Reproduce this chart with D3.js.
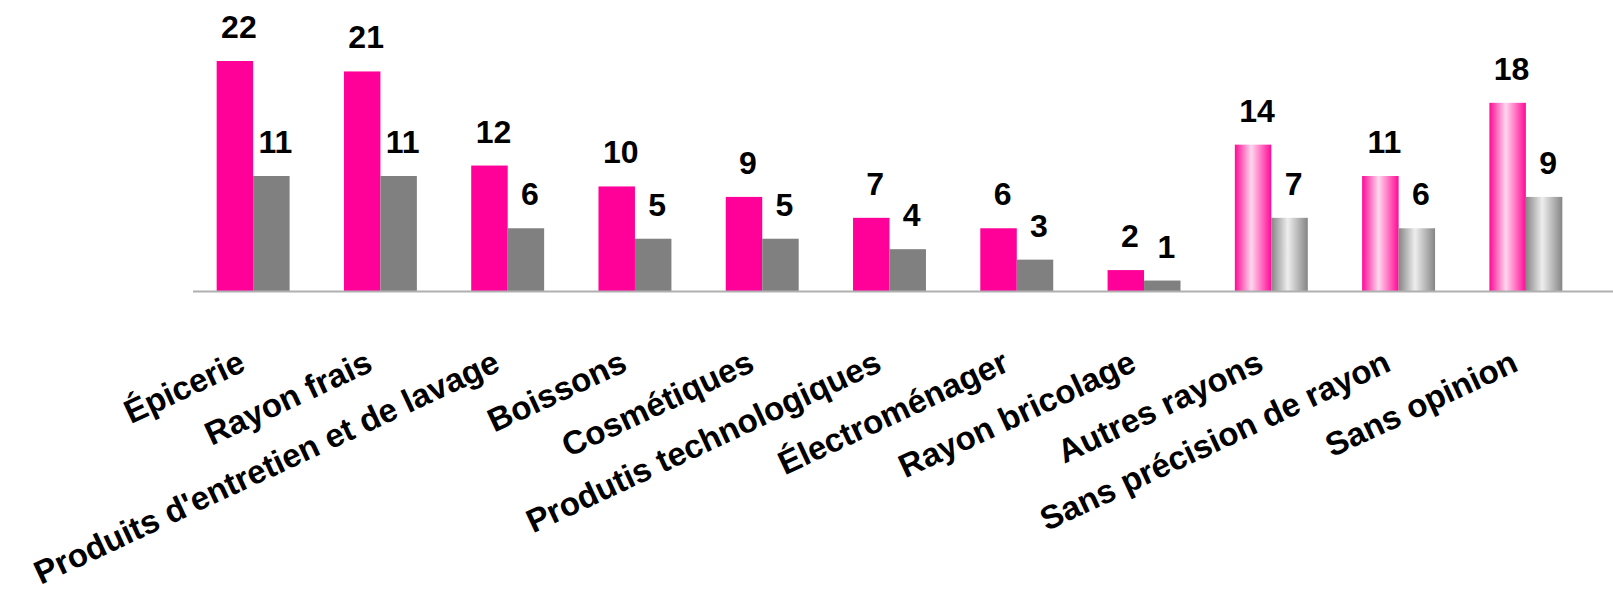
<!DOCTYPE html>
<html>
<head>
<meta charset="utf-8">
<script src="https://cdn.jsdelivr.net/npm/d3@7/dist/d3.min.js"></script>
<style>
	body { margin:0; background:#fff; }
	svg { display:block; font-family:"Liberation Sans", Arial, sans-serif; }
</style>
</head>
<body>
<div id="chart"></div>
<script>
var categories = ["Épicerie","Rayon frais","Produits d'entretien et de lavage","Boissons","Cosmétiques","Produtis technologiques","Électroménager","Rayon bricolage","Autres rayons","Sans précision de rayon","Sans opinion"];
var serieA = [22,21,12,10,9,7,6,2,14,11,18];
var serieB = [11,11,6,5,5,4,3,1,7,6,9];
// the last three groups are drawn with a shaded (gradient) fill
var shaded = ["Autres rayons","Sans précision de rayon","Sans opinion"];

var W = 1613, H = 595;
var svg = d3.select("#chart").append("svg").attr("width",W).attr("height",H);

var defs = svg.append("defs");
function grad(id, edge, mid){
	var g = defs.append("linearGradient").attr("id",id).attr("x1","0").attr("x2","1").attr("y1","0").attr("y2","0");
	g.append("stop").attr("offset","0%").attr("stop-color",edge);
	g.append("stop").attr("offset","45%").attr("stop-color",mid);
	g.append("stop").attr("offset","100%").attr("stop-color",edge);
}
grad("gPink","#FF0A96","#FFD8EE");
grad("gGrey","#858585","#EEEEEE");

var rows = categories.map(function(c,i){return {cat:c, vals:[{k:0,v:serieA[i]},{k:1,v:serieB[i]}]};});

var x = d3.scaleBand().domain(categories).range([189.5,1589.5]).paddingInner(0.427).paddingOuter(0.2135);
var xs = d3.scaleBand().domain([0,1]).range([0,x.bandwidth()]);
var y = d3.scaleLinear().domain([0,22]).range([291,61]);

var solid = ["#FF0099","#808080"];
var grads = ["url(#gPink)","url(#gGrey)"];

var g = svg.selectAll("g.grp").data(rows).enter().append("g")
	.classed("grp",true)
	.attr("transform",function(d){return "translate("+x(d.cat)+",0)";});

g.selectAll("rect").data(function(d){return d.vals.map(function(v){return {k:v.k,v:v.v,cat:d.cat};});})
	.enter().append("rect")
	.attr("x",function(d){return xs(d.k);})
	.attr("y",function(d){return y(d.v);})
	.attr("width",xs.bandwidth())
	.attr("height",function(d){return y(0)-y(d.v);})
	.attr("fill",function(d){return shaded.indexOf(d.cat)>=0 ? grads[d.k] : solid[d.k];});

g.selectAll("text.val").data(function(d){return d.vals;})
	.enter().append("text")
	.classed("val",true)
	.attr("x",function(d){return xs(d.k)+xs.bandwidth()/2+4;})
	.attr("y",function(d){return y(d.v)-23;})
	.attr("text-anchor","middle")
	.attr("font-size","32px")
	.attr("font-weight","bold")
	.text(function(d){return d.v;});

// baseline
svg.append("line")
	.attr("x1",193).attr("x2",W)
	.attr("y1",y(0)+0.5).attr("y2",y(0)+0.5)
	.attr("stroke","#B0B0B0").attr("stroke-width",2);

// category labels, rotated
svg.selectAll("text.cat").data(categories).enter().append("text")
	.classed("cat",true)
	.attr("transform",function(d){return "translate("+(x(d)+x.bandwidth()/2-6)+",370) rotate(-25)";})
	.attr("text-anchor","end")
	.attr("font-size","33px")
	.attr("font-weight","bold")
	.text(function(d){return d;});
</script>
</body>
</html>
